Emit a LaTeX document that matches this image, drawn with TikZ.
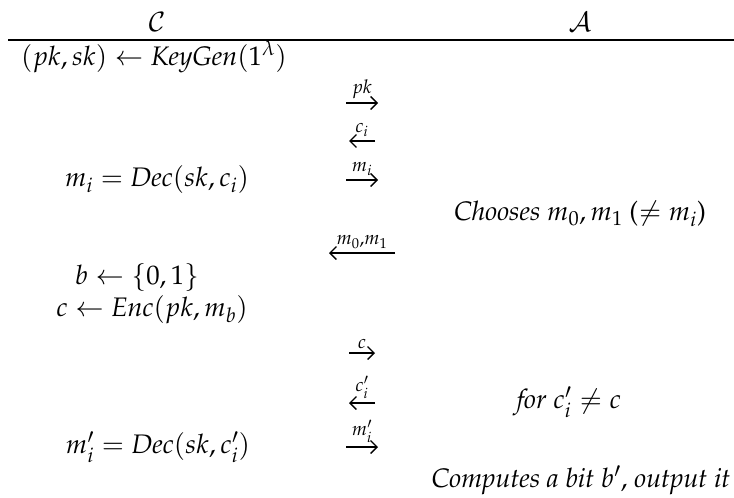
\documentclass[tikz,border=0pt]{standalone}
\usepackage{amsmath, amssymb}
\usepackage[T1]{fontenc}
\usepackage{mathpazo}
\usepackage{tikz}
\usetikzlibrary{arrows.meta, positioning}

\begin{document}
\begin{tikzpicture}[
        x=1pt, y=-1pt,
        txt/.style={inner sep=0pt, font=\fontsize{26.8}{32}\selectfont},
        lbl/.style={inner sep=0pt, font=\fontsize{19}{22}\selectfont, above=4pt},
        msg/.style={-{Straight Barb[length=6.5pt, width=13pt]}, line width=1.3pt}
    ]
        \useasboundingbox (0, 0) rectangle (734, 498);

        % Parties
        \node[txt] (chal) at (157, 22) {$\mathcal{C}$};
        \node[txt] (adv) at (580, 22) {$\mathcal{A}$};
        \coordinate (ruleL) at (8, 40);
        \coordinate (ruleR) at (734, 40);
        \draw[line width=1.3pt] (ruleL) -- (ruleR);

        % Key generation
        \node[txt] (keygen) at (154, 57) {$(pk, sk) \leftarrow \mathit{KeyGen}(1^{\lambda})$};
        \coordinate (pkA) at (346, 103);
        \coordinate (pkB) at (378, 103);
        \draw[msg] (pkA) -- node[lbl] (pklbl) {$pk$} (pkB);

        % Decryption queries
        \coordinate (ciA) at (375, 141);
        \coordinate (ciB) at (349, 141);
        \draw[msg] (ciA) -- node[lbl] (cilbl) {$c_i$} (ciB);
        \node[txt] (dec) at (157, 180) {$m_i = \mathit{Dec}(sk, c_i)$};
        \coordinate (miA) at (346, 180);
        \coordinate (miB) at (378, 180);
        \draw[msg] (miA) -- node[lbl] (milbl) {$m_i$} (miB);

        % Challenge messages
        \node[txt] (choose) at (580, 214) {\textit{Chooses} $m_0, m_1$ ($\neq m_i$)};
        \coordinate (mmA) at (395, 253);
        \coordinate (mmB) at (329, 253);
        \draw[msg] (mmA) -- node[lbl] (mmlbl) {$m_0{,}m_1$} (mmB);

        % Challenge ciphertext
        \node[txt] (coin) at (137, 277) {$b \leftarrow \{0, 1\}$};
        \node[txt] (enc) at (152, 310) {$c \leftarrow \mathit{Enc}(pk, m_b)$};
        \coordinate (cA) at (349, 353);
        \coordinate (cB) at (375, 353);
        \draw[msg] (cA) -- node[lbl] (clbl) {$c$} (cB);

        % Further queries
        \coordinate (cpA) at (375, 403);
        \coordinate (cpB) at (349, 403);
        \draw[msg] (cpA) -- node[lbl] (cplbl) {$c_i'$} (cpB);
        \node[txt] (cond) at (569, 402) {\textit{for} $c_i' \neq c$};
        \node[txt] (dec2) at (158, 447) {$m_i' = \mathit{Dec}(sk, c_i')$};
        \coordinate (mpA) at (346, 447);
        \coordinate (mpB) at (378, 447);
        \draw[msg] (mpA) -- node[lbl] (mplbl) {$m_i'$} (mpB);

        % Guess
        \node[txt] (guess) at (581, 480) {\textit{Computes a bit} $b'$, \textit{output it}};
    \end{tikzpicture}
\end{document}
